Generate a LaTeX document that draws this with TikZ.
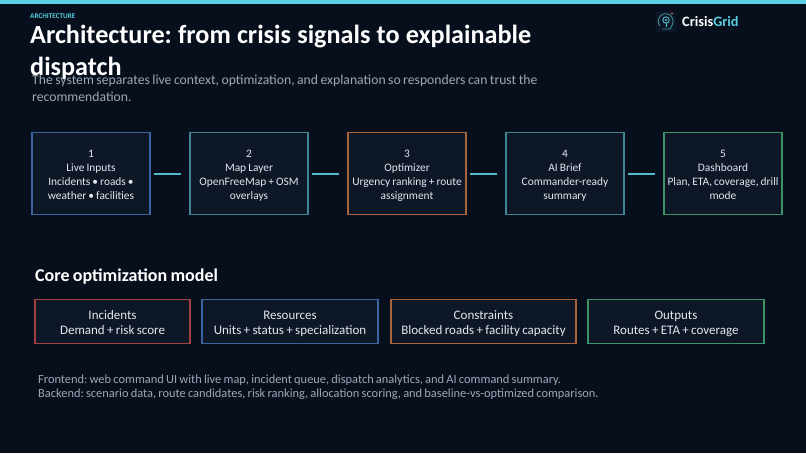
\documentclass[tikz,border=0pt]{standalone}
\usepackage{fontspec}
\setmainfont[WordSpace=0.8]{Carlito}
\newfontfamily\headfont[WordSpace=1.05]{Carlito}
\usepackage{xcolor}
\usetikzlibrary{positioning}
\definecolor{slidebg}{RGB}{7,15,28}
\definecolor{boxbg}{RGB}{14,23,37}
\definecolor{topbar}{RGB}{88,208,226}
\definecolor{mutedtxt}{RGB}{158,168,182}
\definecolor{boxtxt}{RGB}{226,232,240}
\definecolor{ulblue}{RGB}{58,100,160}
\definecolor{ulteal}{RGB}{62,132,146}
\definecolor{ulorange}{RGB}{170,100,60}
\definecolor{ulgreen}{RGB}{60,146,100}
\definecolor{ulred}{RGB}{160,66,68}
\frenchspacing
\newcommand{\flowlines}[4]{\rule{0pt}{12.3pt}#1\\#2\\#3\\#4\rule[-3pt]{0pt}{3pt}}
\newcommand{\modellines}[2]{\rule{0pt}{13.6pt}#1\\#2\rule[-3pt]{0pt}{3pt}}
\tikzset{
  flowbox/.style={draw=#1, line width=1.2pt, fill=boxbg, text=boxtxt, minimum width=118pt, minimum height=82pt, inner sep=1pt, align=center, font=\fontsize{11.4}{14}\selectfont},
  modelbox/.style={draw=#1, line width=1.2pt, fill=boxbg, text=boxtxt, minimum height=44pt, inner sep=1pt, align=center, font=\fontsize{13}{15}\selectfont},
  linkbar/.style={draw=topbar!90!black, line width=2pt},
  lefttxt/.style={anchor=north west, inner sep=0pt, align=left}
}
\begin{document}
\begin{tikzpicture}[x=1pt, y=-1pt]
\useasboundingbox (0,0) rectangle (806,453);
\fill[slidebg] (0,0) rectangle (806,453);
\fill[topbar] (0,0) rectangle (806,3.5);
% heading
\node[lefttxt, text=topbar, font=\bfseries\fontsize{7.2}{8}\selectfont] (kicker) at (30,13.5) {ARCHITECTURE};
\node[lefttxt, text=white, font=\headfont\bfseries\fontsize{26.2}{32}\selectfont] (title) at (30,25) {Architecture: from crisis signals to explainable\\dispatch};
\node[lefttxt, text=mutedtxt, font=\fontsize{13.7}{17}\selectfont] (subtitle) at (32,75) {The system separates live context, optimization, and explanation so responders can trust the\\recommendation.};
% logo
\node[lefttxt, text=white, font=\bfseries\fontsize{14.3}{16}\selectfont] (brand) at (682,16) {Crisis\textcolor{topbar}{Grid}};
\fill[boxbg] (656,12) rectangle (676,32);
\draw[topbar!70!black, line width=0.8pt] (660,26) arc (220:-30:7.5pt) -- (670,29) -- (662,29);
\draw[topbar, line width=0.8pt] (666,20) circle (3.2pt);
\fill[topbar] (666,20) circle (1.2pt);
\draw[topbar, line width=0.8pt] (666,23.2) -- (666,27);
\fill[ulorange] (672,13.5) circle (1.2pt);
% pipeline
\node[flowbox=ulblue] (inputs) at (91,173.5) {\flowlines{1}{Live Inputs}{Incidents • roads •}{weather • facilities}};
\node[flowbox=ulteal] (maplayer) at (249,173.5) {\flowlines{2}{Map Layer}{OpenFreeMap + OSM}{overlays}};
\node[flowbox=ulorange] (optimizer) at (407,173.5) {\flowlines{3}{Optimizer}{Urgency ranking + route}{assignment}};
\node[flowbox=ulteal] (brief) at (565,173.5) {\flowlines{4}{AI Brief}{Commander-ready}{summary}};
\node[flowbox=ulgreen] (dash) at (723,173.5) {\flowlines{5}{Dashboard}{Plan, ETA, coverage, drill}{mode}};
\foreach \a/\b in {inputs/maplayer, maplayer/optimizer, optimizer/brief, brief/dash}
  \draw[linkbar] ([xshift=3pt]\a.east) -- ([xshift=-8pt]\b.west);
% model
\node[lefttxt, text=white, font=\bfseries\fontsize{18}{21}\selectfont] (modelhead) at (35,268.5) {Core optimization model};
\node[modelbox=ulred, minimum width=155pt] (incidents) at (112.5,321.5) {\modellines{Incidents}{Demand + risk score}};
\node[modelbox=ulblue, minimum width=176pt] (resources) at (290,321.5) {\modellines{Resources}{Units + status + specialization}};
\node[modelbox=ulorange, minimum width=185pt] (constraints) at (483.5,321.5) {\modellines{Constraints}{Blocked roads + facility capacity}};
\node[modelbox=ulgreen, minimum width=176pt] (outputs) at (676,321.5) {\modellines{Outputs}{Routes + ETA + coverage}};
% notes
\node[lefttxt, text=mutedtxt, font=\fontsize{12.4}{14}\selectfont] (notes) at (38,374.5) {Frontend: web command UI with live map, incident queue, dispatch analytics, and AI command summary.\\Backend: scenario data, route candidates, risk ranking, allocation scoring, and baseline-vs-optimized comparison.};
\end{tikzpicture}
\end{document}
